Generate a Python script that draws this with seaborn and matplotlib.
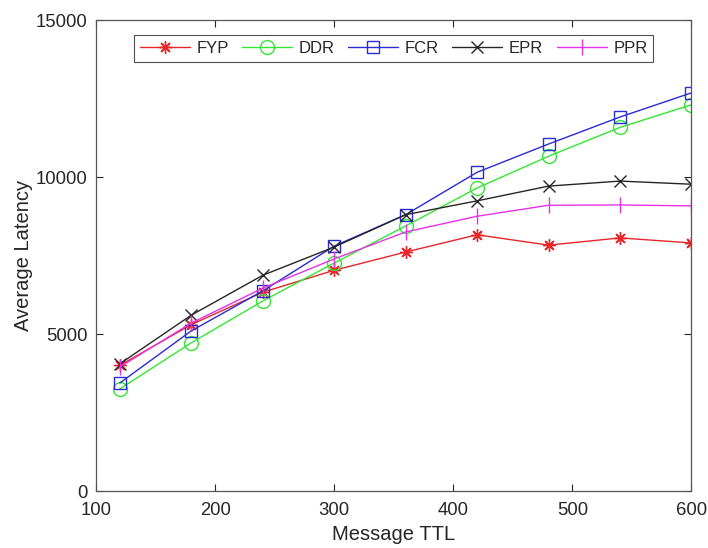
import matplotlib
matplotlib.use("Agg")
import matplotlib.pyplot as plt
import seaborn as sns
import pandas as pd

ttl = [120, 180, 240, 300, 360, 420, 480, 540, 600]
fyp = [4000, 5300, 6330, 7030, 7610, 8160, 7830, 8060, 7900]
ddr = [3250, 4720, 6050, 7260, 8440, 9650, 10660, 11580, 12300]
fcr = [3440, 5100, 6370, 7800, 8800, 10150, 11050, 11910, 12680]
epr = [4050, 5600, 6870, 7770, 8800, 9240, 9710, 9870, 9770]
ppr = [3950, 5350, 6460, 7390, 8250, 8750, 9100, 9110, 9080]

series = ["FYP", "DDR", "FCR", "EPR", "PPR"]
values = [fyp, ddr, fcr, epr, ppr]
colors = ["#e8262a", "#33e633", "#2a2ad6", "#262626", "#e632e6"]
markers = [(8, 2, 0), "o", "s", "x", "|"]
msizes = [9, 10, 8, 8, 11]

sns.set_style("white")
plt.rcParams['font.family'] = ['Liberation Sans', 'DejaVu Sans']

fig = plt.figure(figsize=(7.08, 5.48), dpi=100)
ax = fig.add_axes([0.1356, 0.104, 0.841, 0.8595])

for name, vals, c, m, ms in zip(series, values, colors, markers, msizes):
    df = pd.DataFrame({"ttl": ttl, "lat": vals})
    sns.lineplot(data=df, x="ttl", y="lat", ax=ax, color=c, marker=m,
                 markersize=ms, markerfacecolor="none", markeredgecolor=c,
                 markeredgewidth=1.0, linewidth=1.0, label=name)

ax.set_xlim(100, 600)
ax.set_ylim(0, 15000)
ax.set_xticks([100, 200, 300, 400, 500, 600])
ax.set_yticks([0, 5000, 10000, 15000])
ax.set_xlabel("Message TTL", fontsize=14.5, color="#262626", labelpad=4)
ax.set_ylabel("Average Latency", fontsize=14.5, color="#262626", labelpad=2)
ax.tick_params(direction="in", length=5, width=0.8, colors="#262626",
               labelsize=13.3, top=True, right=True, bottom=True, left=True)
ax.tick_params(axis="x", pad=8)
ax.tick_params(axis="y", pad=6)
for s in ax.spines.values():
    s.set_visible(True)
    s.set_color("#555555")
    s.set_linewidth(0.9)

leg = ax.legend(ncol=5, loc="upper center", bbox_to_anchor=(0.5, 0.968),
                fontsize=12, handlelength=3.0, columnspacing=0.8,
                handletextpad=0.4, frameon=True, fancybox=False,
                borderpad=0.35, labelspacing=0.3, borderaxespad=0)
leg.get_frame().set_edgecolor("#262626")
leg.get_frame().set_linewidth(0.8)

fig.savefig("out.png", dpi=100)
